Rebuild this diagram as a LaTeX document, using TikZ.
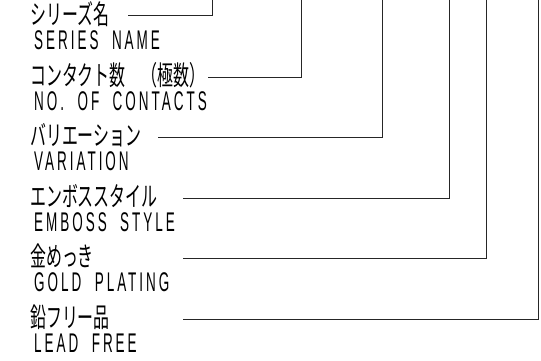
\documentclass[tikz,border=0pt]{standalone}
\usepackage{fontspec}
\newfontfamily\jpfont{Noto Sans CJK JP}[FakeStretch=0.59]
\newfontfamily\enfont{Liberation Sans}[FakeStretch=0.5,LetterSpace=11,WordSpace=2]
\begin{document}
\begin{tikzpicture}[x=1pt,y=-1pt,
  jp/.style={anchor=base west,inner sep=0pt,text height=16pt,text depth=2pt,font=\jpfont\fontsize{27}{27}\selectfont},
  en/.style={anchor=base west,inner sep=0pt,font=\enfont\fontsize{27}{27}\selectfont},
  lead/.style={line width=1pt,draw=black!85}]
\useasboundingbox (0,0) rectangle (541,360);
% labels
\node[jp] (j1) at (30,24.2) {シリーズ名};
\node[en] (e1) at (34,49) {SERIES NAME};
\node[jp] (j2) at (30,85) {コンタクト数　（極数）};
\node[en] (e2) at (34,110) {NO. OF CONTACTS};
\node[jp] (j3) at (30,145) {バリエーション};
\node[en] (e3) at (34,170) {VARIATION};
\node[jp] (j4) at (30,206) {エンボススタイル};
\node[en] (e4) at (34,231) {EMBOSS STYLE};
\node[jp] (j5) at (30,266) {金めっき};
\node[en] (e5) at (34,291) {GOLD PLATING};
\node[jp] (j6) at (30,327) {鉛フリー品};
\node[en] (e6) at (34,352) {LEAD FREE};
% leader coordinates
\coordinate (s1) at (128,15);  \coordinate (c1) at (212,15);  \coordinate (t1) at (212,0);
\coordinate (s2) at (208,77);  \coordinate (c2) at (301,77);  \coordinate (t2) at (301,0);
\coordinate (s3) at (158,137); \coordinate (c3) at (382,137); \coordinate (t3) at (382,0);
\coordinate (s4) at (183,198); \coordinate (c4) at (449,198); \coordinate (t4) at (449,0);
\coordinate (s5) at (183,258); \coordinate (c5) at (486,258); \coordinate (t5) at (486,0);
\coordinate (s6) at (183,319); \coordinate (c6) at (538,319); \coordinate (t6) at (538,0);
\foreach \i in {1,...,6}{\draw[lead] (s\i) -- (c\i) -- (t\i);}
\end{tikzpicture}
\end{document}
